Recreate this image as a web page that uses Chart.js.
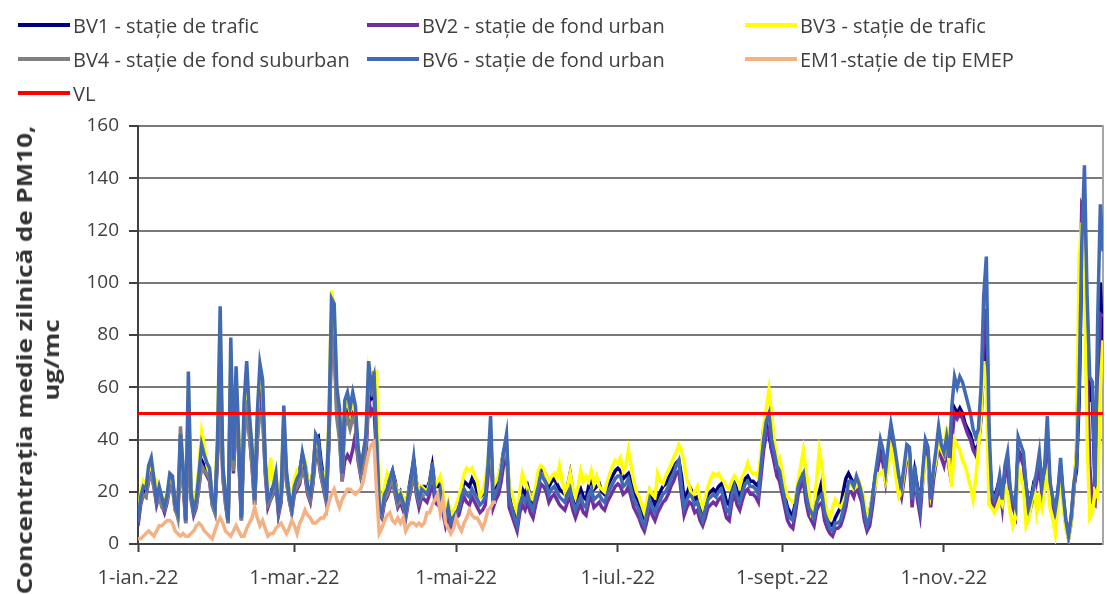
<!DOCTYPE html>
<html>
<head>
<meta charset="utf-8">
<script src="https://cdn.jsdelivr.net/npm/chart.js@4.4.1/dist/chart.umd.min.js"></script>
<style>
  body { margin: 0; background: #fff; font-family: 'Open Sans', sans-serif; }
  #wrap { position: relative; width: 1107px; height: 594px; overflow: hidden; }
  #chart { position: absolute; left: 0; top: 0; }
  #legend {
    position: absolute; left: 18px; top: 8px;
    display: grid; grid-template-columns: 349px 378px 330px; grid-auto-rows: 34px;
    align-items: center; font-size: 20px; color: #404040;
  }
  .item { display: flex; align-items: center; white-space: nowrap; }
  .swatch { width: 52px; height: 4px; margin-right: 3px; }
  #ytitle {
    position: absolute; width: 640px; height: 54px; left: -283px; top: 333px;
    line-height: 27px; text-align: center; transform: rotate(-90deg) scaleX(1.18);
    font-weight: bold; font-size: 22px; color: #333; white-space: nowrap;
  }
</style>
</head>
<body>
<div id="wrap">
  <canvas id="chart" width="1107" height="594"></canvas>
  <div id="legend"></div>
  <div id="ytitle">Concentrația medie zilnică de PM10,<br>ug/mc</div>
</div>
<script>
// daily PM10 values, index = day of 2022 (0 = 1 ian.)
const bv1 = [
  9,17,20,20,27,30,24,18,20,17, 15,18,24,24,16,13,36,25,10,55,
  18,14,16,25,32,30,28,27,18,15, 36,75,28,18,10,68,30,60,36,11,
  48,62,46,34,18,44,60,56,30,18, 20,22,26,15,19,46,26,20,15,22,
  26,28,34,31,24,20,28,40,41,32, 25,20,42,85,82,56,48,30,50,52,
  48,50,48,36,30,34,40,62,56,58, 36,16,14,20,22,25,28,24,18,20,
  17,14,20,26,32,24,19,22,22,21, 24,30,22,22,24,18,11,15,10,12,
  14,16,20,24,23,22,25,23,20,18, 19,21,30,40,20,22,25,30,36,38,
  20,17,13,10,17,21,19,22,18,16, 21,25,29,28,26,22,24,25,23,21,
  20,19,22,27,20,16,19,21,18,17, 22,25,21,22,23,20,19,22,24,26,
  28,29,28,25,26,27,24,20,18,16, 12,10,15,20,17,15,18,20,22,23,
  25,27,29,31,32,26,17,19,22,20, 17,18,14,11,15,19,20,21,20,22,
  23,20,16,15,21,24,20,18,22,25, 26,24,24,23,22,30,44,46,42,36,
  33,29,27,23,18,14,12,11,16,23, 26,27,21,16,14,12,17,20,24,14,
  10,8,7,10,12,14,20,25,27,25, 23,25,22,20,14,9,12,18,25,31,
  37,34,28,36,40,36,30,24,20,28, 36,35,19,28,22,16,26,37,35,19,
  27,34,40,36,34,38,32,44,52,50, 52,50,46,44,42,38,36,38,48,70,
  75,36,20,18,21,25,18,28,32,20, 16,12,36,34,32,22,15,18,24,26,
  30,22,28,40,22,17,12,20,30,18, 8,4,10,22,28,55,110,120,80,55,
  55,22,70,100,71
];
const bv2 = [
  7,15,19,18,24,27,22,15,19,15, 12,16,22,22,13,11,34,23,8,50,
  17,11,14,22,30,28,26,24,15,12, 33,70,26,16,8,62,27,55,33,9,
  44,56,42,30,15,40,55,52,27,14, 17,19,23,11,16,42,24,17,12,19,
  21,23,30,26,19,16,23,34,33,26, 21,16,38,80,78,50,42,24,32,34,
  32,36,42,32,26,30,34,55,50,52, 34,12,10,16,18,21,24,19,14,16,
  13,10,16,21,28,19,14,18,17,16, 19,26,16,15,18,12,7,11,6,8,
  10,11,15,18,16,15,18,16,14,12, 13,15,26,40,14,17,19,24,31,36,
  14,11,8,5,12,15,13,16,12,10, 15,19,23,22,20,16,18,19,17,15,
  14,13,16,18,13,10,13,15,12,11, 16,18,14,15,16,14,13,16,18,20,
  22,23,22,19,20,22,18,14,12,10, 7,5,9,14,11,9,12,14,16,17,
  19,22,24,27,28,19,11,14,16,15, 12,13,9,7,10,14,15,16,15,17,
  18,14,10,9,16,19,15,13,17,20, 21,19,19,18,16,26,36,42,44,36,
  31,26,24,19,14,9,7,6,12,19, 22,24,16,11,9,7,13,15,16,9,
  6,4,3,6,6,7,10,14,20,20, 18,22,19,16,9,5,7,14,22,29,
  34,31,24,33,40,35,28,22,18,25, 33,32,14,26,17,11,24,35,33,14,
  24,31,38,33,30,36,29,40,50,48, 50,48,45,42,40,36,34,38,50,80,
  90,38,17,14,17,22,14,26,30,18, 14,11,36,33,30,19,11,15,19,24,
  30,19,26,40,21,15,10,17,28,16, 7,2,8,20,35,80,130,128,70,30,
  16,15,40,88,87
];
const bv3 = [
  10,20,24,22,28,30,26,24,20,17, 15,20,25,24,14,13,38,26,10,60,
  22,16,20,30,43,38,30,27,19,15, 45,86,28,18,10,75,35,65,42,12,
  50,66,48,38,19,48,66,60,30,19, 33,24,28,16,20,50,26,21,17,25,
  28,27,33,32,24,20,28,40,38,28, 27,21,48,97,90,58,50,30,52,55,
  50,55,50,36,32,34,40,66,60,66, 66,20,16,22,27,25,27,23,19,20,
  18,14,20,24,30,24,19,22,21,20, 23,28,22,24,26,20,12,16,11,12,
  15,18,22,27,29,28,29,26,24,18, 20,24,32,40,22,24,26,30,35,38,
  22,20,15,12,20,27,24,21,18,17, 22,28,30,29,26,24,26,27,25,30,
  24,20,22,27,21,18,22,28,24,26, 24,28,23,26,22,21,20,24,27,30,
  32,31,33,28,30,36,30,24,20,18, 15,12,17,21,19,18,27,24,23,26,
  28,30,33,35,38,36,31,25,22,18, 20,22,17,14,18,22,25,27,26,27,
  25,24,22,21,24,26,24,22,26,28, 31,28,27,27,25,35,45,52,59,50,
  40,31,33,28,22,18,17,16,17,24, 30,36,28,20,12,14,25,36,30,18,
  12,10,14,17,15,14,16,19,22,23, 21,22,24,21,16,9,12,18,22,27,
  27,28,24,30,37,33,25,18,20,28, 35,32,22,26,20,17,24,33,31,20,
  27,32,40,36,34,45,30,22,40,38, 36,32,30,26,22,17,25,36,50,70,
  60,15,14,12,14,17,15,22,20,12, 7,10,30,26,22,7,10,16,22,12,
  18,14,22,27,14,10,4,15,24,14, 6,2,8,22,35,110,123,100,40,10,
  12,20,18,60,78
];
const bv4 = [
  10,16,19,18,25,26,22,16,18,14, 13,17,22,22,14,10,45,30,8,40,
  18,12,15,22,30,28,27,25,15,12, 36,60,25,15,8,50,28,48,35,9,
  40,50,42,30,15,40,50,48,28,15, 17,20,24,12,17,40,24,17,12,20,
  22,24,28,27,20,17,24,36,35,26, 22,17,38,80,75,48,40,24,45,48,
  44,48,46,33,27,32,38,60,58,66, 38,13,11,17,19,22,24,20,15,17,
  15,11,17,22,28,20,16,19,18
];
const bv6 = [
  8,18,22,21,30,33,25,17,22,18, 14,19,27,26,15,12,42,28,9,66,
  20,13,17,27,38,34,31,29,17,14, 40,91,30,19,9,79,32,68,40,10,
  54,70,50,37,17,50,69,63,32,17, 19,22,27,13,19,53,28,19,14,22,
  25,27,35,30,22,19,27,42,40,30, 24,19,45,94,92,60,52,27,55,58,
  52,58,53,37,30,35,42,70,60,64, 40,14,12,19,21,25,28,22,17,19,
  16,12,19,25,33,22,17,21,20,19, 22,31,19,18,21,15,9,14,8,10,
  12,13,18,21,19,18,21,19,17,15, 16,18,30,49,17,20,22,28,36,42,
  17,14,10,7,15,18,16,19,15,13, 18,22,27,25,23,19,21,22,20,18,
  17,16,19,21,16,13,16,18,15,14, 19,21,17,18,19,17,16,19,21,23,
  25,26,26,22,23,25,21,17,15,13, 9,7,12,17,14,12,15,17,19,20,
  22,25,27,30,32,22,14,17,19,18, 15,16,12,9,13,17,18,19,18,20,
  21,17,13,12,19,22,18,16,20,23, 24,22,22,21,19,30,40,47,50,40,
  35,30,28,22,17,12,10,9,15,22, 25,27,19,14,12,10,16,18,19,12,
  9,6,5,8,8,9,13,17,24,24, 22,26,23,19,12,7,10,17,26,33,
  40,36,28,38,46,40,33,26,22,30, 38,37,17,30,20,14,28,40,37,17,
  28,36,45,38,35,41,33,53,64,60, 64,62,58,54,50,44,41,44,60,95,
  110,45,20,17,20,26,17,30,35,21, 17,14,41,38,35,22,14,18,22,28,
  35,22,30,49,24,18,13,20,33,19, 9,3,10,23,30,60,115,145,95,64,
  62,22,86,130,112
];
const em1 = [
  2,2,3,4,5,4,3,5,7,7, 8,9,9,8,5,4,3,4,3,3,
  4,5,7,8,7,5,4,3,2,5, 8,10,8,5,4,3,5,7,5,3,
  3,6,8,10,14,10,7,9,6,3, 4,4,6,7,8,6,4,6,9,7,
  4,8,10,13,11,10,8,8,9,10, 10,12,16,19,21,17,14,17,19,21,
  21,20,19,20,21,24,30,35,38,39, 20,4,6,9,11,12,9,8,10,8,
  10,5,7,8,8,7,8,7,8,12, 12,15,17,19,12,17,8,6,4,6,
  10,7,5,8,10,13,11,10,10,8, 6,9,13,14,16,16
];
// valoarea limită zilnică
const vlDays = [0, 364];
const vlValues = [50, 50];

const xTickDays = [0, 59, 120, 181, 243, 304];
const xTickLabels = ['1-ian.-22', '1-mar.-22', '1-mai-22', '1-iul.-22', '1-sept.-22', '1-nov.-22'];

const seriesNames = ['BV1 - stație de trafic', 'BV2 - stație de fond urban', 'BV3 - stație de trafic',
  'BV4 - stație de fond suburban', 'BV6 - stație de fond urban', 'EM1-stație de tip EMEP', 'VL'];
const seriesColors = ['#000080', '#7030a0', '#ffff00', '#808080', '#4169b4', '#f4b183', '#ff0000'];

function toPoints(values, days) {
  return values.map((v, i) => ({ x: days ? days[i] : i, y: v }));
}

const allData = [bv1, bv2, bv3, bv4, bv6, em1].map(a => toPoints(a));
allData.push(toPoints(vlValues, vlDays));

// later series drawn on top (lower order = on top)
const datasets = seriesNames.map((name, i) => ({
  label: name,
  data: allData[i],
  borderColor: seriesColors[i],
  backgroundColor: seriesColors[i],
  borderWidth: i === 6 ? 3 : 3.5,
  order: 6 - i,
  pointRadius: 0,
  tension: 0
}));

// legend
const legend = document.getElementById('legend');
seriesNames.forEach((name, i) => {
  const item = document.createElement('div');
  item.className = 'item';
  item.innerHTML = '<span class="swatch" style="background:' + seriesColors[i] + '"></span><span>' + name + '</span>';
  legend.appendChild(item);
});

Chart.defaults.font.family = "'Open Sans', sans-serif";

const ctx = document.getElementById('chart').getContext('2d');
new Chart(ctx, {
  type: 'line',
  data: { datasets: datasets },
  options: {
    responsive: false,
    animation: false,
    layout: { padding: { top: 126, right: 4, bottom: 0, left: 0 } },
    plugins: { legend: { display: false }, tooltip: { enabled: false } },
    scales: {
      x: {
        type: 'linear',
        min: 0,
        max: 364,
        afterBuildTicks: function(axis) {
          axis.ticks = xTickDays.map(v => ({ value: v }));
        },
        afterFit: function(scale) { scale.height = 50; },
        ticks: {
          autoSkip: false,
          maxRotation: 0,
          padding: 14,
          color: '#404040',
          font: { size: 20 },
          callback: function(value, index) { return xTickLabels[index]; }
        },
        grid: { drawOnChartArea: false, tickLength: 8, tickColor: '#404040', tickWidth: 2 },
        border: { color: '#404040', width: 2 }
      },
      y: {
        min: 0,
        max: 160,
        afterFit: function(scale) { scale.width = 138; },
        ticks: { stepSize: 20, padding: 10, color: '#404040', font: { size: 19 } },
        grid: { color: '#7a7a7a', lineWidth: 2, tickLength: 9, tickColor: '#404040', tickWidth: 2 },
        border: { color: '#404040', width: 2 }
      },
      y2: {
        position: 'right',
        min: 0,
        max: 160,
        afterFit: function(scale) { scale.width = 0; },
        ticks: { display: false },
        grid: { display: false },
        border: { color: '#a6a6a6', width: 2 }
      }
    }
  }
});
</script>
</body>
</html>
